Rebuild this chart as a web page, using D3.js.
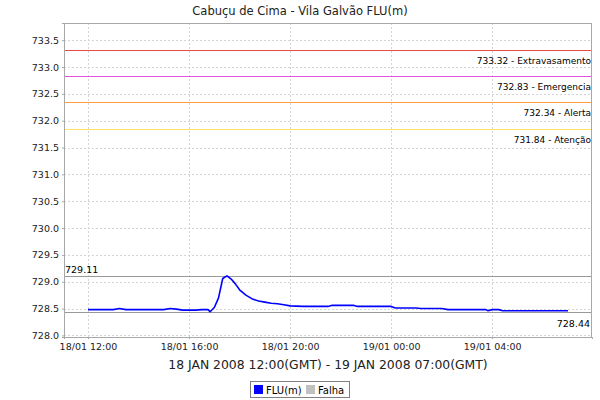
<!DOCTYPE html>
<html>
<head>
<meta charset="utf-8">
<script src="https://cdn.jsdelivr.net/npm/d3@7"></script>
<style>
  html, body { margin: 0; padding: 0; background: #fff; }
  svg { display: block; font-family: "DejaVu Sans", sans-serif; }
</style>
</head>
<body>
<svg id="chart" width="600" height="400"></svg>
<script>
// ---- data ----
const chartTitle = "Cabuçu de Cima - Vila Galvão FLU(m)";
const xAxisTitle = "18 JAN 2008 12:00(GMT) - 19 JAN 2008 07:00(GMT)";
const times = [
  "2008-01-18T12:00","2008-01-18T12:15","2008-01-18T12:30","2008-01-18T12:45",
  "2008-01-18T13:00","2008-01-18T13:15","2008-01-18T13:30","2008-01-18T13:45",
  "2008-01-18T14:00","2008-01-18T14:15","2008-01-18T14:30","2008-01-18T14:45",
  "2008-01-18T15:00","2008-01-18T15:15","2008-01-18T15:30","2008-01-18T15:45",
  "2008-01-18T16:00","2008-01-18T16:15","2008-01-18T16:30","2008-01-18T16:45",
  "2008-01-18T16:50","2008-01-18T17:00","2008-01-18T17:10","2008-01-18T17:20",
  "2008-01-18T17:30","2008-01-18T17:40","2008-01-18T17:50","2008-01-18T18:00",
  "2008-01-18T18:15","2008-01-18T18:30","2008-01-18T18:45","2008-01-18T19:00",
  "2008-01-18T19:15","2008-01-18T19:30","2008-01-18T19:45","2008-01-18T20:00",
  "2008-01-18T20:30","2008-01-18T21:00","2008-01-18T21:30","2008-01-18T21:40",
  "2008-01-18T22:00","2008-01-18T22:30","2008-01-18T22:40","2008-01-18T23:00",
  "2008-01-18T23:30","2008-01-19T00:00","2008-01-19T00:10","2008-01-19T00:30",
  "2008-01-19T01:00","2008-01-19T01:10","2008-01-19T01:30","2008-01-19T02:00",
  "2008-01-19T02:15","2008-01-19T02:30","2008-01-19T03:00","2008-01-19T03:30",
  "2008-01-19T03:45","2008-01-19T03:50","2008-01-19T04:00","2008-01-19T04:15",
  "2008-01-19T04:25","2008-01-19T05:00","2008-01-19T05:30","2008-01-19T06:00",
  "2008-01-19T06:30","2008-01-19T07:00"
];
const levels = [
  728.48,728.48,728.48,728.48,
  728.48,728.50,728.48,728.48,
  728.48,728.48,728.48,728.48,
  728.48,728.50,728.49,728.47,
  728.47,728.47,728.48,728.48,
  728.44,728.52,728.70,729.06,
  729.11,729.05,728.96,728.85,
  728.75,728.68,728.64,728.62,
  728.60,728.59,728.57,728.55,
  728.54,728.54,728.54,728.56,
  728.56,728.56,728.54,728.54,
  728.54,728.54,728.51,728.51,
  728.51,728.50,728.50,728.50,
  728.48,728.48,728.48,728.48,
  728.48,728.46,728.48,728.48,
  728.46,728.46,728.46,728.46,
  728.46,728.46
];
const thresholdValues = [733.32, 732.83, 732.34, 731.84];
const thresholdNames = ["Extravasamento", "Emergencia", "Alerta", "Atenção"];
const thresholdColors = ["#e84a4a", "#e452e4", "#ffa040", "#ffe060"];
const maxValue = 729.11;
const minValue = 728.44;
const yTicks = [728.0,728.5,729.0,729.5,730.0,730.5,731.0,731.5,732.0,732.5,733.0,733.5];
const xTickTimes = ["2008-01-18T12:00","2008-01-18T16:00","2008-01-18T20:00","2008-01-19T00:00","2008-01-19T04:00"];
const legendNames = ["FLU(m)", "Falha"];
const legendColors = ["#0000ff", "#c0c0c0"];

// ---- chart ----
const parse = d3.utcParse("%Y-%m-%dT%H:%M");
const data = times.map((t, i) => ({ t: parse(t), v: levels[i] }));
const svg = d3.select("#chart");
const L = 64, R = 592, T = 23, B = 337;

const t0 = parse("2008-01-18T12:00"), t1 = parse("2008-01-19T07:00");
const span = t1 - t0;
const x = d3.scaleUtc()
  .domain([new Date(+t0 - span * 0.05), new Date(+t1 + span * 0.05)])
  .range([L, R]);
const y = d3.scaleLinear().domain([727.97, 733.82]).range([B, T]);

// grid
const grid = svg.append("g").attr("stroke", "#d4d4d4").attr("stroke-dasharray", "2,2").attr("stroke-width", 1);
grid.selectAll("line.gy").data(yTicks).join("line")
  .attr("x1", L).attr("x2", R)
  .attr("y1", d => Math.round(y(d)) + 0.5).attr("y2", d => Math.round(y(d)) + 0.5);
grid.selectAll("line.gx").data(xTickTimes.map(parse)).join("line")
  .attr("y1", T).attr("y2", B)
  .attr("x1", d => Math.round(x(d)) + 0.5).attr("x2", d => Math.round(x(d)) + 0.5);

// plot border
svg.append("rect").attr("x", L + 0.5).attr("y", T + 0.5).attr("width", R - L - 1).attr("height", B - T)
  .attr("fill", "none").attr("stroke", "#a8a8a8");

// thresholds
thresholdValues.forEach((v, i) => {
  const yy = Math.round(y(v)) + 0.5;
  svg.append("line").attr("x1", L + 1).attr("x2", R - 1).attr("y1", yy).attr("y2", yy)
    .attr("stroke", thresholdColors[i]).attr("stroke-width", 1);
  svg.append("text").attr("x", R - 1).attr("y", yy + 13)
    .attr("text-anchor", "end").attr("font-size", 9).attr("fill", "#000")
    .text(d3.format(".2f")(v) + " - " + thresholdNames[i]);
});

// max / min reference lines
[[maxValue, "start"], [minValue, "end"]].forEach(([v, anchor]) => {
  const yy = Math.round(y(v)) + 0.5;
  svg.append("line").attr("x1", L + 1).attr("x2", R - 1).attr("y1", yy).attr("y2", yy)
    .attr("stroke", "#999999").attr("stroke-width", 1.2);
  svg.append("text")
    .attr("x", anchor === "start" ? L + 1 : R - 2)
    .attr("y", anchor === "start" ? yy - 4 : yy + 14)
    .attr("text-anchor", anchor).attr("font-size", 9.5).attr("fill", "#000")
    .text(d3.format(".2f")(v));
});

// data line
svg.append("path").datum(data)
  .attr("fill", "none").attr("stroke", "#0000ff").attr("stroke-width", 1.6)
  .attr("stroke-linejoin", "round")
  .attr("d", d3.line().x(d => x(d.t)).y(d => y(d.v)));

// axes
const yAxis = svg.append("g").attr("transform", `translate(${L},0)`)
  .call(d3.axisLeft(y).tickValues(yTicks).tickFormat(d3.format(".1f")).tickSize(2).tickPadding(3));
const xAxis = svg.append("g").attr("transform", `translate(0,${B})`)
  .call(d3.axisBottom(x).tickValues(xTickTimes.map(parse)).tickFormat(d3.utcFormat("%d/%m %H:%M")).tickSize(2).tickPadding(4));
[yAxis, xAxis].forEach(g => {
  g.select(".domain").attr("stroke", "#a8a8a8");
  g.selectAll(".tick line").attr("stroke", "#a8a8a8");
  g.selectAll("text").attr("font-family", "DejaVu Sans").attr("font-size", 9.5).attr("fill", "#222");
});

// titles
svg.append("text").attr("x", 300).attr("y", 15).attr("text-anchor", "middle")
  .attr("font-size", 11.5).attr("fill", "#222").text(chartTitle);
svg.append("text").attr("x", (L + R) / 2).attr("y", 369).attr("text-anchor", "middle")
  .attr("font-size", 12.4).attr("fill", "#222").text(xAxisTitle);

// legend
const lg = svg.append("g");
lg.append("rect").attr("x", 250.5).attr("y", 381.5).attr("width", 99).attr("height", 16)
  .attr("fill", "#fff").attr("stroke", "#808080");
const legendX = [254, 306];
legendNames.forEach((n, i) => {
  lg.append("rect").attr("x", legendX[i]).attr("y", 385).attr("width", 9).attr("height", 9).attr("fill", legendColors[i]);
  lg.append("text").attr("x", legendX[i] + 12).attr("y", 393.5).attr("font-size", 10).attr("fill", "#000").text(n);
});
</script>
</body>
</html>
